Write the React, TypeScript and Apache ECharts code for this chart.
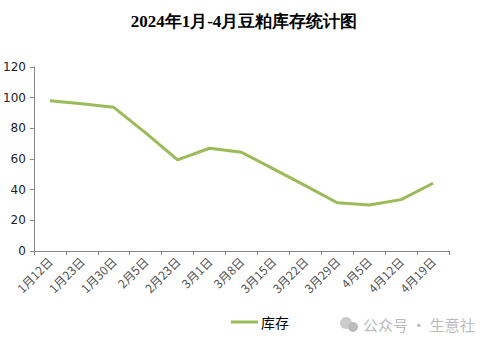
import React, { useEffect, useRef } from "react";
import * as echarts from "echarts";

const categories = ["1月12日", "1月23日", "1月30日", "2月5日", "2月23日", "3月1日", "3月8日", "3月15日", "3月22日", "3月29日", "4月5日", "4月12日", "4月19日"];
const inventory = [98, 96, 93.7, 77, 59.4, 67, 64.4, 53.6, 42.6, 31.5, 30, 33.5, 44.2];
const yTicks = { min: 0, max: 120, interval: 20 };

export default function App() {
  const ref = useRef<HTMLDivElement>(null);
  useEffect(() => {
    const chart = echarts.init(ref.current!, null, { renderer: "svg" });
    chart.setOption({
      animation: false,
      backgroundColor: "#fff",
      title: {
        text: "2024年1月-4月豆粕库存统计图",
        left: "center",
        top: 8,
        textStyle: { fontSize: 17, fontWeight: "bold", color: "#000", fontFamily: "serif" },
      },
      grid: { left: 33, right: 39, top: 67, bottom: 103, containLabel: false },
      legend: {
        bottom: 20,
        left: 226,
        itemWidth: 27,
        itemHeight: 3,
        itemGap: 4,
        icon: "rect",
        textStyle: { fontSize: 14, color: "#000", fontFamily: "'Noto Sans CJK SC', sans-serif", padding: [0, 0, 0, -2] },
        data: ["库存"],
      },
      xAxis: {
        type: "category",
        data: categories,
        boundaryGap: true,
        axisLine: { lineStyle: { color: "#888" } },
        axisTick: { show: true, alignWithLabel: false, length: 4, lineStyle: { color: "#888" } },
        axisLabel: { rotate: 45, interval: 0, fontSize: 12, color: "#555", fontFamily: "'Noto Sans CJK SC', sans-serif", margin: 8 },
      },
      yAxis: {
        type: "value",
        min: yTicks.min,
        max: yTicks.max,
        interval: yTicks.interval,
        axisLine: { show: true, lineStyle: { color: "#888" } },
        axisTick: { show: true, length: 4, lineStyle: { color: "#888" } },
        axisLabel: { fontSize: 12, color: "#222", fontFamily: "'DejaVu Sans', sans-serif", margin: 8 },
        splitLine: { show: false },
      },
      series: [
        {
          name: "库存",
          type: "line",
          data: inventory,
          symbol: "none",
          lineStyle: { color: "#9BBB59", width: 3 },
          itemStyle: { color: "#9BBB59" },
        },
      ],
      graphic: [
        {
          type: "group",
          left: 340,
          top: 317,
          children: [
            { type: "circle", shape: { cx: 7, cy: 7, r: 6 }, style: { fill: "#ccc" } },
            { type: "circle", shape: { cx: 14, cy: 11, r: 5 }, style: { fill: "#bbb" } },
            {
              type: "text",
              x: 24,
              y: 1,
              style: { text: "公众号 · 生意社", fontSize: 15, fill: "#bbb", fontFamily: "'Noto Sans CJK SC', sans-serif" },
            },
          ],
        },
      ],
    });
    return () => chart.dispose();
  }, []);
  return <div ref={ref} style={{ width: 488, height: 354, position: "absolute", left: 0, top: 0 }} />;
}
